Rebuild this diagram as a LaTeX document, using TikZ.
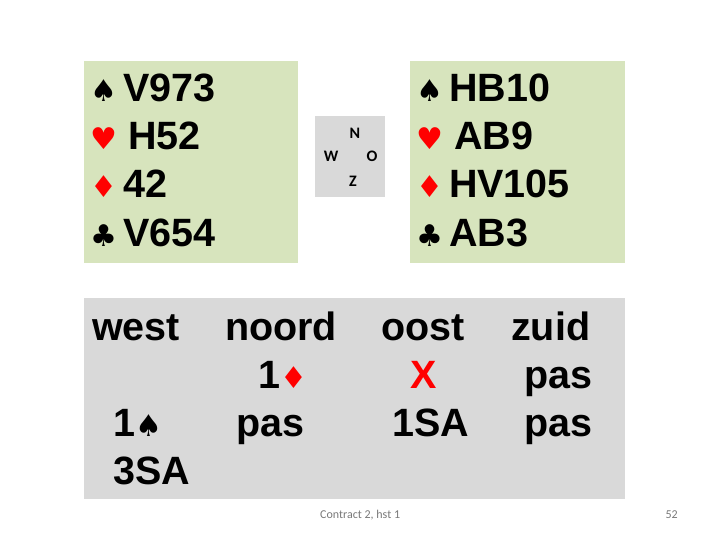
\documentclass[tikz,border=0pt]{standalone}
\usepackage{fontspec}
\setmainfont{Liberation Sans}
\newfontfamily\suitfont{DejaVu Sans}
\newfontfamily\slidefont{Carlito}
\usetikzlibrary{positioning}
\definecolor{handbg}{RGB}{215,228,189}
\definecolor{biedbg}{RGB}{217,217,217}
\definecolor{voetgray}{RGB}{120,120,120}
\newcommand{\spadesym}{{\suitfont\fontsize{30}{30}\selectfont ♠}}
\newcommand{\heartsym}{{\color{red}\suitfont\fontsize{30}{30}\selectfont ♥}}
\newcommand{\diamsym}{{\color{red}\suitfont\fontsize{30}{30}\selectfont ♦}}
\newcommand{\clubsym}{{\suitfont\fontsize{30}{30}\selectfont ♣}}
\tikzset{
	handbox/.style={fill=handbg, draw=none},
	bidbox/.style={fill=biedbg, draw=none},
	handtxt/.style={anchor=base west, inner sep=0pt, font=\bfseries\fontsize{39.5}{39.5}\selectfont},
	windtxt/.style={inner sep=0pt, font=\slidefont\bfseries\fontsize{16}{16}\selectfont},
	voettxt/.style={inner sep=0pt, text=voetgray, font=\slidefont\fontsize{12}{12}\selectfont}
}
\begin{document}
\begin{tikzpicture}[x=1pt, y=-1pt]
		\useasboundingbox (0,0) rectangle (720,540);
		\fill[handbox] (84,61) rectangle (298,263);
		\fill[handbox] (410,61) rectangle (625,263);
		\fill[bidbox] (315,116) rectangle (385,197);
		\fill[bidbox] (84,298) rectangle (625,499);

		\node[handtxt] at (90,102) (ws)    {\spadesym\hspace{6pt}V973};
		\node[handtxt] at (90,150) (wh)    {\heartsym\ H52};
		\node[handtxt] at (90,198) (wd)    {\diamsym\hspace{6pt}42};
		\node[handtxt] at (90,247) (wc)    {\clubsym\hspace{6pt}V654};

		\node[handtxt] at (416,102) (es)    {\spadesym\hspace{6pt}HB10};
		\node[handtxt] at (416,150) (eh)    {\heartsym\ AB9};
		\node[handtxt] at (416,198) (ed)    {\diamsym\hspace{6pt}HV105};
		\node[handtxt] at (416,247) (ec)    {\clubsym\hspace{6pt}AB3};

		\node[windtxt] at (355,133) (n)    {N};
		\node[windtxt] at (331,156) (w)    {W};
		\node[windtxt] at (372,156) (o)    {O};
		\node[windtxt] at (353,181) (z)    {Z};

		\node[handtxt] at (92,340) (west)    {west};
		\node[handtxt] at (225,340) (noord)    {noord};
		\node[handtxt] at (381,340) (oost)    {oost};
		\node[handtxt] at (511,340) (zuid)    {zuid};

		\node[handtxt] at (258,388) (b1)    {1\diamsym};
		\node[handtxt, text=red] at (410,388) (b2)    {X};
		\node[handtxt] at (524,388) (b3)    {pas};
		\node[handtxt] at (113,436) (b4)    {1\spadesym};
		\node[handtxt] at (236,436) (b5)    {pas};
		\node[handtxt] at (392,436) (b6)    {1SA};
		\node[handtxt] at (524,436) (b7)    {pas};
		\node[handtxt] at (113,484) (b8)    {3SA};

		\node[voettxt, anchor=west] at (320,515) (vt)    {Contract 2, hst 1};
		\node[voettxt, anchor=east] at (678,515) (pg)    {52};
	\end{tikzpicture}
\end{document}
